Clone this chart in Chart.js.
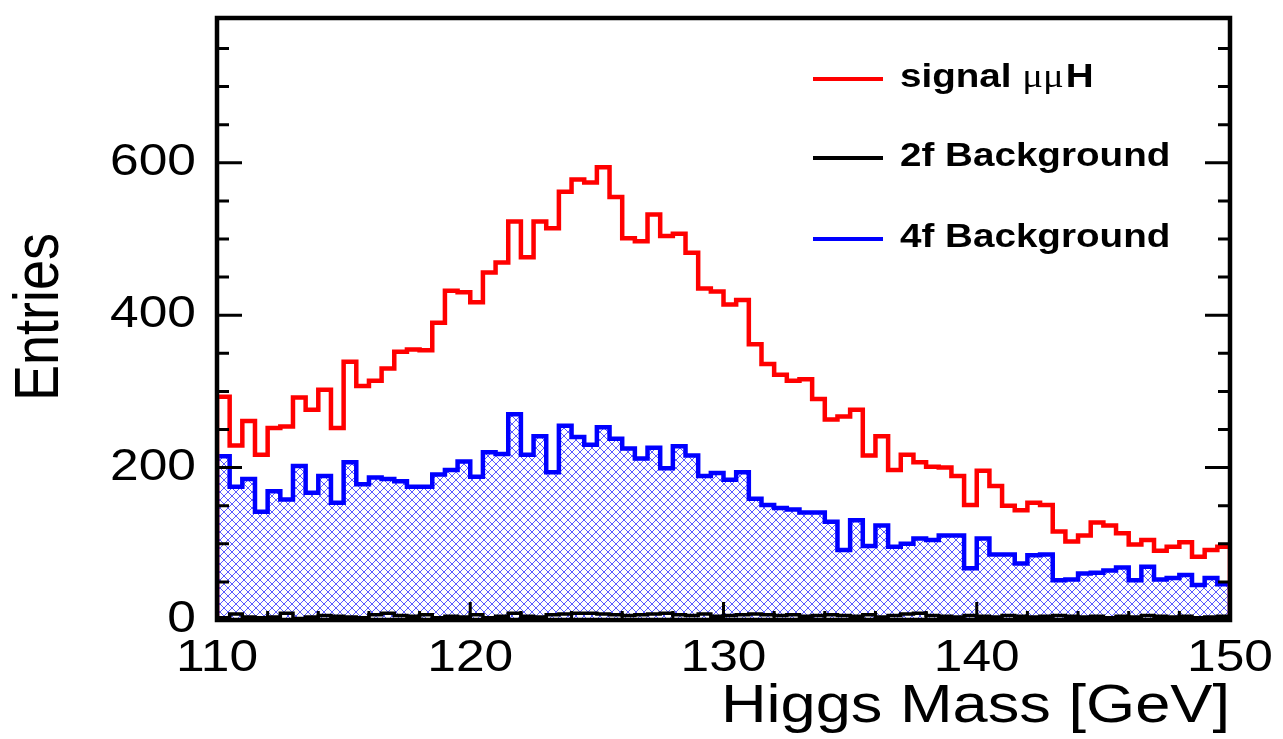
<!DOCTYPE html>
<html>
<head>
<meta charset="utf-8">
<script src="https://cdn.jsdelivr.net/npm/chart.js@4.4.1/dist/chart.umd.min.js"></script>
<style>
  html, body { margin: 0; padding: 0; background: #ffffff; }
  #wrap { position: absolute; left: 0; top: 0; width: 1283px; height: 739px; }
</style>
</head>
<body>
<div id="wrap"><canvas id="c" width="1283" height="739"></canvas></div>
<script>
// ---- data ----
const xMin = 110, xMax = 150, binWidth = 0.5;
const yMin = 0, yMax = 790;
const xTickLabels = [110, 120, 130, 140, 150];
const yTickLabels = [0, 200, 400, 600];
const seriesLabels = ["signal \u03bc\u03bcH", "2f Background", "4f Background"];

const signal = [293,229,261,217,252,254,292,276,302,252,339,307,314,330,352,355,354,390,432,430,
                417,456,469,523,476,523,514,562,578,574,594,555,501,497,532,504,507,482,435,431,
                414,420,362,336,322,314,316,290,263,267,276,216,241,197,217,207,201,200,189,151,
                196,176,150,144,154,151,116,103,111,128,124,114,99,105,91,96,102,83,92,96];
const bg2f   = [3,8,4,3,4,9,2,4,6,5,4,3,7,9,6,5,7,3,5,4,
                7,3,5,9,5,4,7,8,9,9,8,7,6,7,8,9,7,6,8,5,
                6,7,8,7,6,7,5,6,7,6,5,7,4,6,8,9,6,5,4,6,
                5,4,6,5,4,5,6,5,4,5,3,5,4,6,5,4,5,3,4,5];
const bg4f   = [215,175,185,142,169,158,202,167,189,154,207,178,187,185,182,175,175,191,197,208,
                188,220,218,270,217,241,194,255,240,230,253,238,225,212,226,199,228,216,189,193,
                184,194,159,151,147,145,141,141,129,92,131,97,124,96,100,107,105,111,111,68,
                107,86,86,74,85,86,52,53,61,62,65,69,52,70,53,55,59,46,55,47];

// histogram outline points from bin contents
function histPoints(vals) {
  const pts = [{x: xMin, y: 0}];
  vals.forEach((v, i) => {
    const lo = xMin + i * binWidth, hi = lo + binWidth;
    pts.push({x: lo, y: v});
    pts.push({x: hi, y: v});
  });
  pts.push({x: xMax, y: 0});
  return pts;
}

// crisp cross-hatch pattern (pixel diagonals)
function hatch() {
  const n = 8;
  const c = document.createElement('canvas');
  c.width = n; c.height = n;
  const g = c.getContext('2d');
  g.fillStyle = 'rgba(50,50,255,0.8)';
  for (let i = 0; i < n; i++) {
    g.fillRect(i, i, 1, 1);
    g.fillRect(i, n - 1 - i, 1, 1);
  }
  return g.createPattern(c, 'repeat');
}

const S = 1.17; // horizontal text stretch of the reference
function stretchedText(ctx, text, x, y, align) {
  ctx.save();
  ctx.translate(x, y);
  ctx.scale(S, 1);
  ctx.textAlign = align;
  ctx.fillText(text, 0, 0);
  ctx.restore();
}

const framePlugin = {
  id: 'rootFrame',
  afterDatasetsDraw(chart) {
    const ctx = chart.ctx;
    const a = chart.chartArea;
    const xs = chart.scales.x, ys = chart.scales.y;
    ctx.save();
    ctx.strokeStyle = '#000';
    ctx.fillStyle = '#000';
    // ticks
    ctx.lineWidth = 3;
    ctx.beginPath();
    for (let v = yMin; v <= yMax; v += 50) {
      const py = ys.getPixelForValue(v);
      const len = (v % 200 === 0) ? 25 : 12;
      ctx.moveTo(a.left, py); ctx.lineTo(a.left + len, py);
      ctx.moveTo(a.right, py); ctx.lineTo(a.right - len, py);
    }
    for (let v = xMin; v <= xMax; v += 2) {
      const px = xs.getPixelForValue(v);
      const len = ((v - xMin) % 10 === 0) ? 18 : 9;
      ctx.moveTo(px, a.bottom); ctx.lineTo(px, a.bottom - len);
    }
    ctx.stroke();
    // frame
    ctx.lineWidth = 4.5;
    ctx.strokeRect(a.left, a.top, a.right - a.left, a.bottom - a.top);

    // tick labels
    ctx.font = '44px "Liberation Sans", Arial, sans-serif';
    ctx.textBaseline = 'middle';
    yTickLabels.forEach(v => {
      stretchedText(ctx, String(v), 196, ys.getPixelForValue(v), 'right');
    });
    ctx.textBaseline = 'alphabetic';
    xTickLabels.forEach(v => {
      stretchedText(ctx, String(v), xs.getPixelForValue(v), 671, 'center');
    });
    // axis titles
    ctx.font = '54px "Liberation Sans", Arial, sans-serif';
    stretchedText(ctx, 'Higgs Mass [GeV]', a.right, 722, 'right');
    ctx.save();
    ctx.translate(58, 317);
    ctx.scale(S, 1);
    ctx.rotate(-Math.PI / 2);
    ctx.textAlign = 'center';
    ctx.fillText('Entries', 0, 0);
    ctx.restore();

    // legend
    const rows = [79, 158, 239];
    chart.data.datasets.forEach((ds, i) => {
      const y = rows[i];
      ctx.strokeStyle = ds.borderColor;
      ctx.lineWidth = 4;
      ctx.beginPath();
      ctx.moveTo(813, y); ctx.lineTo(883, y);
      ctx.stroke();
      ctx.fillStyle = '#000';
      const base = y + 8;
      if (ds.label.indexOf('\u03bc') >= 0) {
        const parts = [['signal ', 'bold 33px "Liberation Sans", Arial, sans-serif'],
                       ['\u03bc\u03bc', '33px "Liberation Serif", "DejaVu Serif", serif'],
                       ['H', 'bold 33px "Liberation Sans", Arial, sans-serif']];
        let x = 900;
        parts.forEach(([t, f]) => {
          ctx.font = f;
          stretchedText(ctx, t, x, base, 'left');
          x += ctx.measureText(t).width * S + (t === '\u03bc\u03bc' ? 2 : 0);
        });
      } else {
        ctx.font = 'bold 33px "Liberation Sans", Arial, sans-serif';
        stretchedText(ctx, ds.label, 900, base, 'left');
      }
    });
    ctx.restore();
  }
};

const bgPlugin = {
  id: 'whiteBg',
  beforeDraw(chart) {
    const ctx = chart.ctx;
    ctx.save();
    ctx.fillStyle = '#fff';
    ctx.fillRect(0, 0, chart.width, chart.height);
    ctx.restore();
  }
};

new Chart(document.getElementById('c'), {
  type: 'line',
  data: {
    datasets: [
      { label: seriesLabels[0], data: histPoints(signal), borderColor: '#ff0000', borderWidth: 4.5,
        fill: false, pointRadius: 0, tension: 0, order: 1 },
      { label: seriesLabels[1], data: histPoints(bg2f), borderColor: '#000000', borderWidth: 3.5,
        fill: false, pointRadius: 0, tension: 0, order: 0 },
      { label: seriesLabels[2], data: histPoints(bg4f), borderColor: '#0000ff', borderWidth: 4.5,
        backgroundColor: hatch(), fill: 'origin', pointRadius: 0, tension: 0, order: 2 }
    ]
  },
  options: {
    responsive: false,
    devicePixelRatio: 1,
    animation: false,
    layout: { padding: { left: 217, right: 53, top: 18, bottom: 119 } },
    scales: {
      x: { type: 'linear', min: xMin, max: xMax, display: false },
      y: { type: 'linear', min: yMin, max: yMax, display: false }
    },
    plugins: { legend: { display: false }, tooltip: { enabled: false } },
    elements: { line: { borderJoinStyle: 'miter', borderCapStyle: 'butt' } }
  },
  plugins: [bgPlugin, framePlugin]
});
</script>
</body>
</html>
